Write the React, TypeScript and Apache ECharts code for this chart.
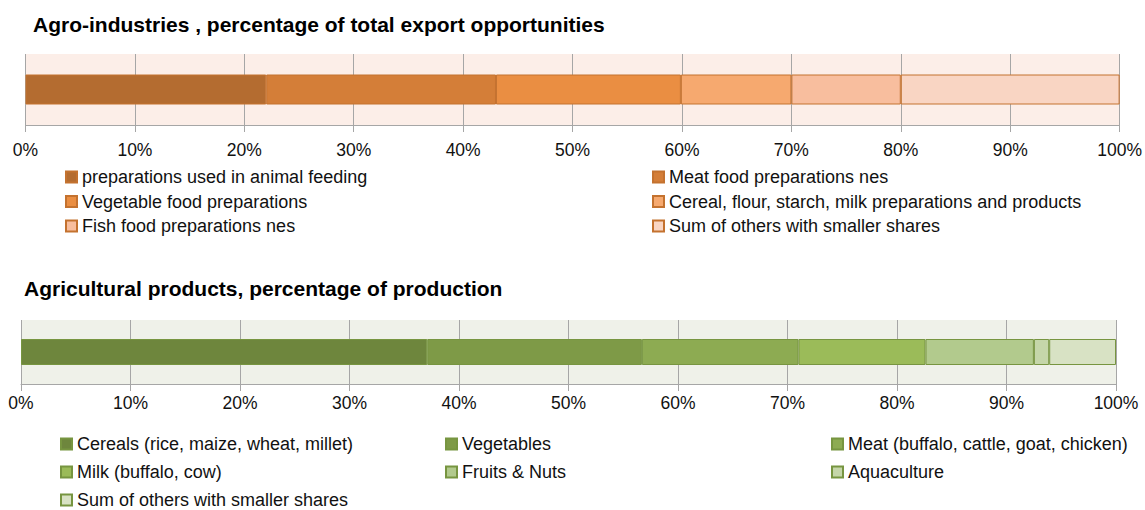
import React, { useEffect, useRef } from "react";
import * as echarts from "echarts";

const topTitle = "Agro-industries , percentage of total export opportunities";
const topNames = [
  "preparations used in animal feeding",
  "Meat food preparations nes",
  "Vegetable food preparations",
  "Cereal, flour, starch, milk preparations and products",
  "Fish food preparations nes",
  "Sum of others with smaller shares",
];
const topValues = [22.0, 21.0, 16.9, 10.1, 10.0, 20.0];
const topColors = ["#B46C30", "#D47E38", "#EA8E42", "#F6A96F", "#F8BE9E", "#F9D5C3"];

const botTitle = "Agricultural products, percentage of production";
const botNames = [
  "Cereals (rice, maize, wheat, millet)",
  "Vegetables",
  "Meat (buffalo, cattle, goat, chicken)",
  "Milk (buffalo, cow)",
  "Fruits & Nuts",
  "Aquaculture",
  "Sum of others with smaller shares",
];
const botValues = [37.1, 19.6, 14.3, 11.6, 9.9, 1.4, 6.1];
const botColors = ["#6E863D", "#7E9A47", "#8DAB52", "#9BBB59", "#B2CA8D", "#C5D6A9", "#D8E2C4"];

const tickValues = [0, 10, 20, 30, 40, 50, 60, 70, 80, 90, 100];

const FONT = "Liberation Sans";

function buildOption(opts: {
  title: string;
  titleLeft: number;
  titleTop: number;
  names: string[];
  values: number[];
  colors: string[];
  border: string;
  bg: string;
  grid: { left: number; right: number; top: number; height: number };
  barWidth: number;
  labelMargin: number;
  legendFont: number;
  legends: { left: number; top: number; items: string[]; gap: number }[];
}) {
  return {
    animation: false,
    title: {
      text: opts.title,
      left: opts.titleLeft,
      top: opts.titleTop,
      padding: 0,
      textStyle: { fontFamily: FONT, fontSize: 21, fontWeight: "bold", color: "#000" },
    },
    grid: {
      ...opts.grid,
      show: true,
      backgroundColor: opts.bg,
      borderWidth: 0,
      containLabel: false,
    },
    legend: opts.legends.map((l) => ({
      orient: "vertical",
      left: l.left,
      top: l.top,
      height: 120,
      padding: 0,
      itemGap: l.gap,
      itemWidth: 11,
      itemHeight: 11,
      icon: "rect",
      selectedMode: false,
      data: l.items,
      textStyle: { fontFamily: FONT, fontSize: opts.legendFont, color: "#111" },
    })),
    xAxis: {
      type: "value",
      min: 0,
      max: 100,
      interval: 10,
      axisLine: { show: true, lineStyle: { color: "#A6A6A6", width: 1 } },
      axisTick: { show: true, length: 7, lineStyle: { color: "#A6A6A6" } },
      splitLine: { show: true, lineStyle: { color: "#A6A6A6", width: 1 } },
      axisLabel: {
        margin: opts.labelMargin,
        fontFamily: FONT,
        fontSize: 17.5,
        color: "#111",
        formatter: (v: number) => (tickValues.includes(v) ? v + "%" : ""),
      },
    },
    yAxis: {
      type: "category",
      data: [""],
      axisLine: { show: false },
      axisTick: { show: false },
      axisLabel: { show: false },
      splitLine: { show: false },
    },
    series: opts.names.map((name, i) => ({
      name,
      type: "bar",
      stack: "total",
      barWidth: opts.barWidth,
      data: [opts.values[i]],
      itemStyle: { color: opts.colors[i], borderColor: opts.border, borderWidth: 1 },
    })),
  };
}

export default function App() {
  const topRef = useRef<HTMLDivElement>(null);
  const botRef = useRef<HTMLDivElement>(null);

  useEffect(() => {
    const c1 = echarts.init(topRef.current!, undefined, { renderer: "svg" });
    c1.setOption(
      buildOption({
        title: topTitle,
        titleLeft: 33,
        titleTop: 14,
        names: topNames,
        values: topValues,
        colors: topColors,
        border: "#C4722F",
        bg: "#FCEEE8",
        grid: { left: 25.5, right: 24, top: 54, height: 71 },
        barWidth: 30,
        labelMargin: 16,
        legendFont: 18,
        legends: [
          { left: 65, top: 168, items: [topNames[0], topNames[2], topNames[4]], gap: 6.5 },
          { left: 652, top: 168, items: [topNames[1], topNames[3], topNames[5]], gap: 6.5 },
        ],
      }) as any
    );
    const c2 = echarts.init(botRef.current!, undefined, { renderer: "svg" });
    c2.setOption(
      buildOption({
        title: botTitle,
        titleLeft: 24,
        titleTop: 47.5,
        names: botNames,
        values: botValues,
        colors: botColors,
        border: "#779540",
        bg: "#EFF1E9",
        grid: { left: 21, right: 29, top: 90, height: 64 },
        barWidth: 26,
        labelMargin: 10,
        legendFont: 18,
        legends: [
          { left: 60, top: 205, items: [botNames[0], botNames[3], botNames[6]], gap: 10 },
          { left: 445, top: 205, items: [botNames[1], botNames[4]], gap: 10 },
          { left: 831, top: 205, items: [botNames[2], botNames[5]], gap: 10 },
        ],
      }) as any
    );
    return () => {
      c1.dispose();
      c2.dispose();
    };
  }, []);

  return (
    <div
      style={{
        position: "absolute",
        left: 0,
        top: 0,
        width: 1145,
        height: 510,
        background: "#fff",
        overflow: "hidden",
      }}
    >
      <div ref={topRef} style={{ position: "absolute", left: 0, top: 0, width: 1145, height: 260 }} />
      <div ref={botRef} style={{ position: "absolute", left: 0, top: 230, width: 1145, height: 280 }} />
    </div>
  );
}
